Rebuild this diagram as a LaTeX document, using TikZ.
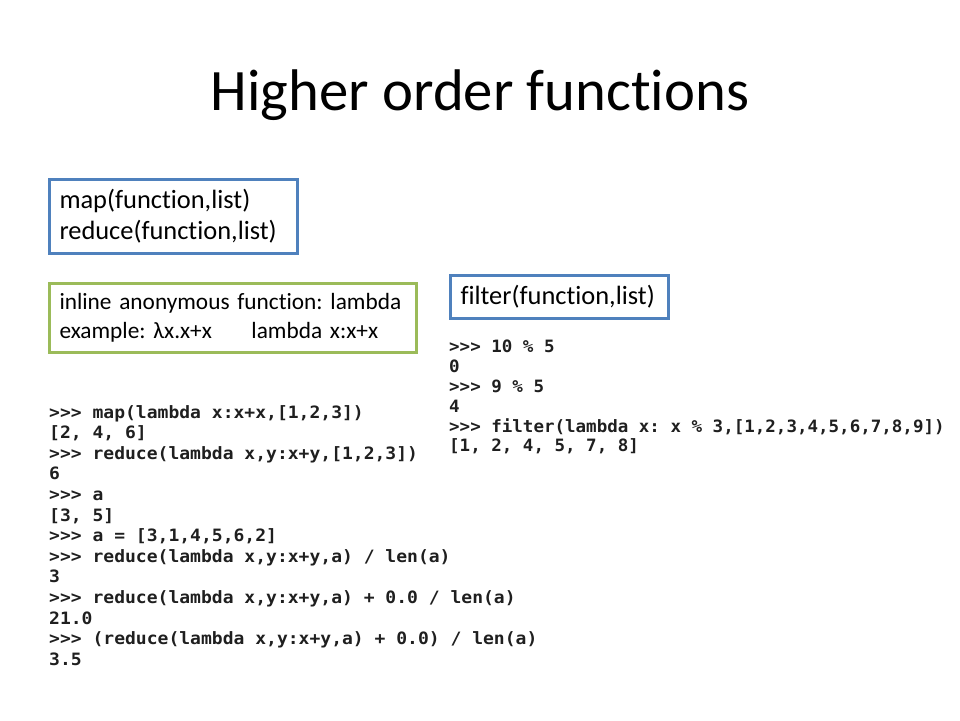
\documentclass[tikz,border=0pt]{standalone}
\usepackage{fontspec}
\setmainfont{Carlito}[Ligatures = {TeX, NoCommon}]
\newfontfamily\codefont{DejaVu Sans Mono}
\usetikzlibrary{positioning}
\definecolor{boxblue}{RGB}{79,129,189}
\definecolor{boxgreen}{RGB}{155,187,89}
\tikzset{titletext/.style = {anchor = base, inner sep = 0, font = \fontsize{58.7}{70}\selectfont}}
\tikzset{framebox/.style = {draw = boxblue, line width = 3, anchor = north west, inner xsep = 10, inner ysep = 0, align = left}}
\tikzset{codeline/.style = {anchor = base west, inner sep = 0, text = black!88, font = \codefont\bfseries\fontsize{17}{20}\selectfont}}
\newcommand{\wide}[2]{\scalebox{#1}[1]{#2}}

\begin{document}
\frenchspacing
\begin{tikzpicture}[x=1pt, y=-1pt]
    \useasboundingbox (0, 0) rectangle (960, 720);
    \node [titletext] (title) at (480, 110) {Higher order functions};
    \node [framebox, minimum width = 248, minimum height = 74, text width = 228,
      font = \fontsize{26.4}{31}\selectfont] (mapbox) at (48, 178)
      {map(function,list)\\reduce(function,list)};
    \node [framebox, draw = boxgreen, minimum width = 367, minimum height = 69, text width = 347,
      font = \fontsize{23.3}{29}\selectfont] (lambdabox) at (48, 282)
      {inline anonymous function: lambda\\\makebox[192pt][l]{example: λx.x+x}lambda x:x+x};
    \node [framebox, minimum width = 218, minimum height = 43, text width = 198,
      font = \fontsize{26.4}{31}\selectfont] (filterbox) at (449, 274) {filter(function,list)};
    \foreach \txt [count=\i] in {{>>> map(lambda x:x+x,[1,2,3])}, {[2, 4, 6]},
        {>>> reduce(lambda x,y:x+y,[1,2,3])}, {6}, {>>> a}, {[3, 5]},
        {>>> a = [3,1,4,5,6,2]}, {>>> reduce(lambda x,y:x+y,a) / len(a)}, {3},
        {>>> reduce(lambda x,y:x+y,a) + 0.0 / len(a)}, {21.0},
        {>>> (reduce(lambda x,y:x+y,a) + 0.0) / len(a)}, {3.5}}{
      \node [codeline] (mapline\i) at (49, {397.4 + 20.6*\i}) {\wide{1.06}{\txt}};
    }
    \foreach \txt [count=\i] in {{>>> 10 \% 5}, {0}, {>>> 9 \% 5}, {4},
        {>>> filter(lambda x: x \% 3,[1,2,3,4,5,6,7,8,9])}, {[1, 2, 4, 5, 7, 8]}}{
      \node [codeline] (filterline\i) at (449, {333 + 19.8*\i}) {\wide{1.03}{\txt}};
    }
  \end{tikzpicture}
\end{document}
